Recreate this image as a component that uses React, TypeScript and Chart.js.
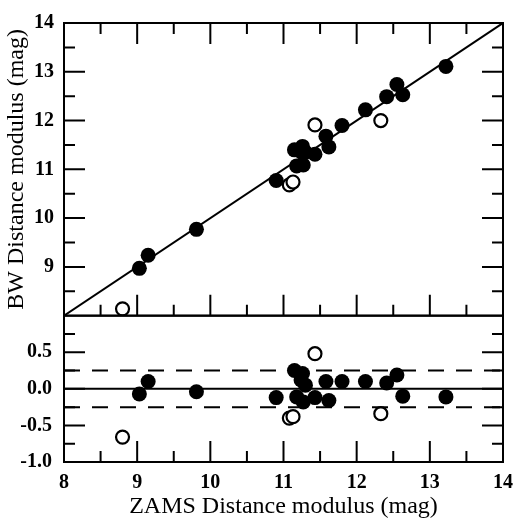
import React, { useEffect, useRef } from 'react';
import { Chart, registerables } from 'chart.js';
Chart.register(...registerables);

// Filled symbols
const zamsFilled = [9.03, 9.15, 9.81, 10.9, 11.15, 11.26, 11.24, 11.3, 11.18, 11.27, 11.43, 11.58, 11.62, 11.8, 12.12, 12.41, 12.55, 12.63, 13.22];
const bwFilled = [8.97, 9.24, 9.77, 10.77, 11.4, 11.47, 11.36, 11.35, 11.07, 11.09, 11.31, 11.68, 11.46, 11.9, 12.22, 12.49, 12.74, 12.53, 13.11];
const residFilled = [-0.07, 0.1, -0.04, -0.12, 0.25, 0.21, 0.12, 0.05, -0.11, -0.18, -0.12, 0.1, -0.16, 0.1, 0.1, 0.08, 0.19, -0.1, -0.11];
// Open symbols
const zamsOpen = [8.8, 11.08, 11.13, 11.43, 12.33];
const bwOpen = [8.14, 10.68, 10.74, 11.91, 12.0];
const residOpen = [-0.66, -0.4, -0.38, 0.48, -0.34];

const xRange = [8, 14];
const topRange = [8, 14];
const botRange = [-1.0, 1.0];
const xTicks = [8, 9, 10, 11, 12, 13, 14];
const xMarks = [9, 10, 11, 12, 13];
const xMinor = [8.5, 9.5, 10.5, 11.5, 12.5, 13.5];
const topYTicks = [9, 10, 11, 12, 13, 14];
const topYMarks = [9, 10, 11, 12, 13];
const topYMinor = [8.5, 9.5, 10.5, 11.5, 12.5, 13.5];
const botYTicks = [-1.0, -0.5, 0.0, 0.5];
const botYMarks = [-0.5, 0.0, 0.5];
const botYMinor = [-0.75, -0.25, 0.25, 0.75];
const oneToOne = [8, 14];
const bandLimits = [-0.25, 0.25];

const SERIF = "'Liberation Serif', 'Times New Roman', serif";
const tickFont = { family: SERIF, size: 20, weight: 'bold' as const };
const titleFont = { family: SERIF, size: 24, weight: 'normal' as const };

const framePlugin = {
  id: 'panelFrames',
  afterDraw(chart: any) {
    const ctx = chart.ctx;
    const a = chart.chartArea;
    ctx.save();
    ctx.strokeStyle = '#000';
    ctx.lineWidth = 2;
    for (const s of [chart.scales.y, chart.scales.y2]) {
      ctx.strokeRect(a.left, s.top, a.right - a.left, s.bottom - s.top);
    }
    ctx.restore();
  },
};

function pts(xs: number[], ys: number[]) {
  return xs.map((x, i) => ({ x, y: ys[i] }));
}
// tick marks at given values along edges (edge values are axis limits)
function vMarks(xs: number[], edges: number[]) {
  return xs.flatMap((x) => edges.map((y) => ({ x, y })));
}
function hMarks(ys: number[], edges: number[]) {
  return ys.flatMap((y) => edges.map((x) => ({ x, y })));
}

const filledStyle = { pointRadius: 7.5, pointBackgroundColor: '#000', pointBorderColor: '#000', pointBorderWidth: 0, showLine: false };
const openStyle = { pointRadius: 6.5, pointBackgroundColor: '#fff', pointBorderColor: '#000', pointBorderWidth: 2.2, showLine: false };
const lineStyle = { showLine: true, pointRadius: 0, borderColor: '#000', borderWidth: 2 };
const tickStyle = (len: number, rot: number) => ({
  showLine: false, pointStyle: 'line', pointRadius: len, pointRotation: rot,
  pointBorderColor: '#000', pointBackgroundColor: '#000', pointBorderWidth: 2, clip: 0,
});

function buildConfig(topFirst: boolean): any {
  const yAfterFit = (s: any) => { s.width = 64; s.paddingTop = 0; s.paddingBottom = 0; };
  const yTop = {
    type: 'linear', position: 'left', stack: 'panels', stackWeight: 2, min: topRange[0], max: topRange[1],
    weight: topFirst ? 2 : 1,
    afterBuildTicks: (s: any) => { s.ticks = topYTicks.map((v) => ({ value: v })); },
    afterFit: yAfterFit,
    ticks: { font: tickFont, color: '#000', padding: 10, callback: (v: any) => String(v) },
    grid: { display: false, drawTicks: false },
    border: { display: false },
    title: { display: true, text: 'BW Distance modulus (mag)', font: titleFont, color: '#000', padding: { top: 2, bottom: 0 } },
  };
  const yBot = {
    type: 'linear', position: 'left', stack: 'panels', stackWeight: 1, min: botRange[0], max: botRange[1],
    weight: topFirst ? 1 : 2,
    afterBuildTicks: (s: any) => { s.ticks = botYTicks.map((v) => ({ value: v })); },
    afterFit: yAfterFit,
    ticks: { font: tickFont, color: '#000', padding: 12, callback: (v: any) => Number(v).toFixed(1) },
    grid: { display: false, drawTicks: false },
    border: { display: false },
  };
  const xScale = {
    type: 'linear', position: 'bottom', min: xRange[0], max: xRange[1],
    afterBuildTicks: (s: any) => { s.ticks = xTicks.map((v) => ({ value: v })); },
    afterFit: (s: any) => { s.height = 59; s.paddingLeft = 0; s.paddingRight = 0; },
    ticks: { font: tickFont, color: '#000', padding: 9, maxRotation: 0, autoSkip: false, callback: (v: any) => String(v) },
    grid: { display: false, drawTicks: false },
    border: { display: false },
    title: { display: true, text: 'ZAMS Distance modulus (mag)', font: titleFont, color: '#000', padding: { top: 0, bottom: 0 } },
  };
  const scales: any = { x: xScale };
  if (topFirst) { scales.y = yTop; scales.y2 = yBot; } else { scales.y2 = yBot; scales.y = yTop; }

  return {
    type: 'scatter',
    data: {
      datasets: [
        // inward tick marks
        { ...tickStyle(21, 90), yAxisID: 'y', data: vMarks(xMarks, topRange) },
        { ...tickStyle(11, 90), yAxisID: 'y', data: vMarks(xMinor, topRange) },
        { ...tickStyle(21, 90), yAxisID: 'y2', data: vMarks(xMarks, [botRange[0]]) },
        { ...tickStyle(11, 90), yAxisID: 'y2', data: vMarks(xMinor, [botRange[0]]) },
        { ...tickStyle(21, 0), yAxisID: 'y', data: hMarks(topYMarks, xRange) },
        { ...tickStyle(11, 0), yAxisID: 'y', data: hMarks(topYMinor, xRange) },
        { ...tickStyle(21, 0), yAxisID: 'y2', data: hMarks(botYMarks, xRange) },
        { ...tickStyle(11, 0), yAxisID: 'y2', data: hMarks(botYMinor, xRange) },
        // data
        { ...lineStyle, yAxisID: 'y', data: pts(oneToOne, oneToOne) },
        { ...openStyle, yAxisID: 'y', data: pts(zamsOpen, bwOpen) },
        { ...filledStyle, yAxisID: 'y', data: pts(zamsFilled, bwFilled) },
        { ...lineStyle, yAxisID: 'y2', data: pts(oneToOne, [0, 0]) },
        { ...lineStyle, yAxisID: 'y2', borderDash: [16, 12], data: pts(oneToOne, [bandLimits[1], bandLimits[1]]) },
        { ...lineStyle, yAxisID: 'y2', borderDash: [16, 12], data: pts(oneToOne, [bandLimits[0], bandLimits[0]]) },
        { ...openStyle, yAxisID: 'y2', data: pts(zamsOpen, residOpen) },
        { ...filledStyle, yAxisID: 'y2', data: pts(zamsFilled, residFilled) },
      ],
    },
    options: {
      animation: false, responsive: false, devicePixelRatio: 1,
      layout: { padding: { top: 10, right: 7, bottom: 0, left: 0 } },
      plugins: { legend: { display: false }, tooltip: { enabled: false } },
      scales,
    },
    plugins: [framePlugin],
  };
}

export default function App() {
  const ref = useRef<HTMLCanvasElement>(null);

  useEffect(() => {
    let chart = new Chart(ref.current!, buildConfig(true));
    if (chart.scales.y.top > chart.scales.y2.top) {
      chart.destroy();
      chart = new Chart(ref.current!, buildConfig(false));
    }
    return () => { chart.destroy(); };
  }, []);

  return (
    <div style={{ position: 'fixed', left: 0, top: 0, width: 526, height: 521, background: '#fff' }}>
      <canvas ref={ref} width={526} height={521} style={{ display: 'block', width: 526, height: 521 }} />
    </div>
  );
}
